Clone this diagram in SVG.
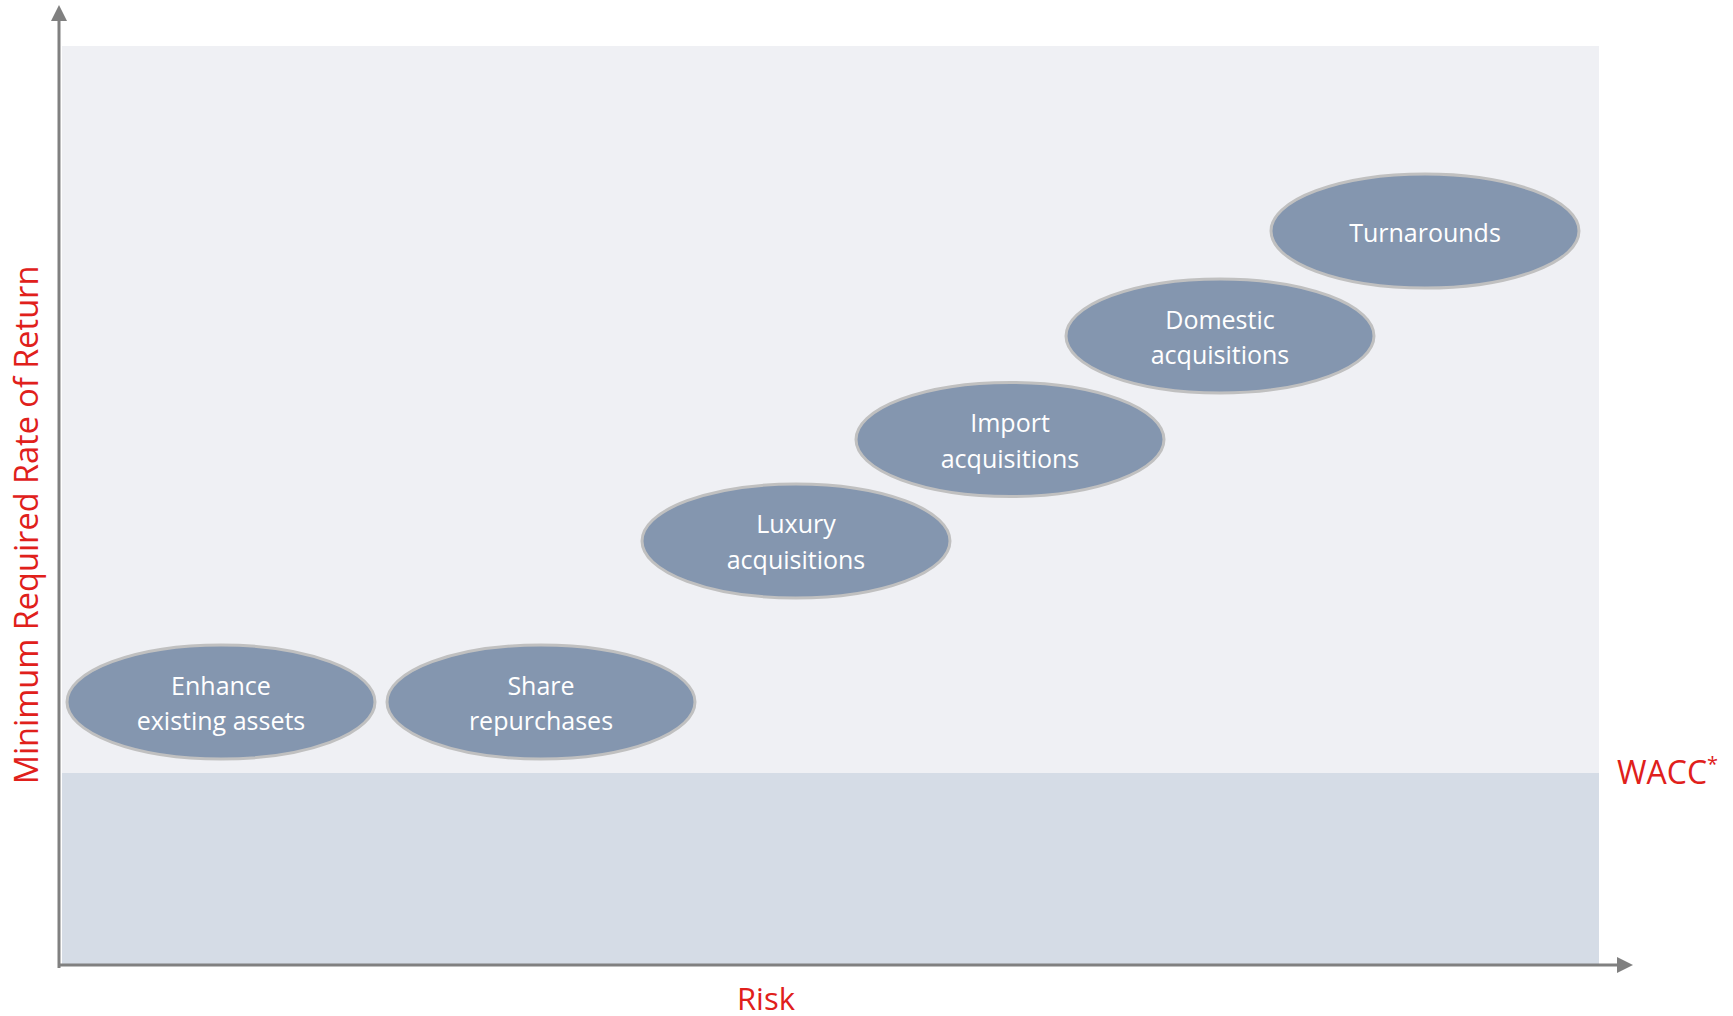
<svg xmlns="http://www.w3.org/2000/svg" width="1733" height="1016" viewBox="0 0 1733 1016">
  <style>
    .node ellipse { fill: #8496AF; stroke: #C0C0C0; stroke-width: 3; }
    .node text { font-family: "Open Sans", "Liberation Sans", sans-serif; font-size: 25px; fill: #FFFFFF; text-anchor: middle; }
    .axis { stroke: #808080; stroke-width: 3; fill: none; }
    .head { fill: #808080; }
    .red { font-family: "Open Sans", "Liberation Sans", sans-serif; fill: #E0201B; }
  </style>
  <rect x="0" y="0" width="1733" height="1016" fill="#FFFFFF"/>
  <g id="background">
    <rect x="62" y="46" width="1537" height="727" fill="#EFF0F4"/>
    <rect x="62" y="773" width="1537" height="193" fill="#D5DCE6"/>
  </g>
  <g id="axes">
    <line class="axis" x1="59" y1="968" x2="59" y2="18"/>
    <polygon class="head" points="59,5 51,21 67,21"/>
    <line class="axis" x1="58" y1="965" x2="1620" y2="965"/>
    <polygon class="head" points="1633,965 1617,957 1617,973"/>
  </g>
  <g id="labels">
    <text class="red" font-size="32.5" text-anchor="middle" transform="translate(38,525) rotate(-90)">Minimum Required Rate of Return</text>
    <text class="red" font-size="31" text-anchor="middle" x="766" y="1010">Risk</text>
    <text class="red" font-size="32" x="1617" y="784">WACC<tspan font-size="20" dy="-13">*</tspan></text>
  </g>
  <g id="node-enhance" class="node">
    <ellipse cx="221" cy="702" rx="154" ry="57"/>
    <text x="221" y="695">Enhance</text>
    <text x="221" y="730">existing assets</text>
  </g>
  <g id="node-share" class="node">
    <ellipse cx="541" cy="702" rx="154" ry="57"/>
    <text x="541" y="695">Share</text>
    <text x="541" y="730">repurchases</text>
  </g>
  <g id="node-luxury" class="node">
    <ellipse cx="796" cy="541" rx="154" ry="57"/>
    <text x="796" y="533">Luxury</text>
    <text x="796" y="569">acquisitions</text>
  </g>
  <g id="node-import" class="node">
    <ellipse cx="1010" cy="439.5" rx="154" ry="57"/>
    <text x="1010" y="432">Import</text>
    <text x="1010" y="468">acquisitions</text>
  </g>
  <g id="node-domestic" class="node">
    <ellipse cx="1220" cy="336" rx="154" ry="57"/>
    <text x="1220" y="329">Domestic</text>
    <text x="1220" y="364">acquisitions</text>
  </g>
  <g id="node-turnarounds" class="node">
    <ellipse cx="1425" cy="231" rx="154" ry="57"/>
    <text x="1425" y="242">Turnarounds</text>
  </g>
  <g id="connectors"></g>
</svg>
